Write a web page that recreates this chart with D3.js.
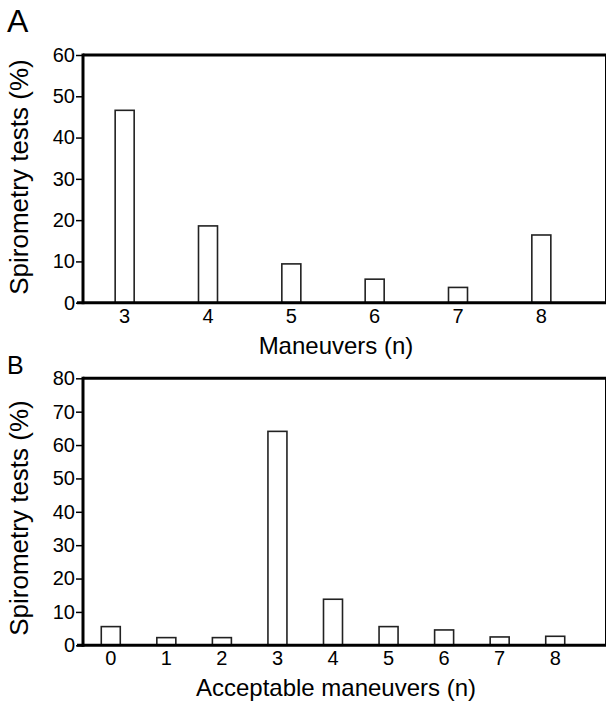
<!DOCTYPE html>
<html lang="en">
<head>
<meta charset="UTF-8">
<title>Spirometry maneuvers</title>
<script src="https://d3js.org/d3.v7.min.js"></script>
<style>
  body { margin: 0; background: #fff; }
  text { font-family: "Liberation Sans", Arial, sans-serif; fill: #000; }
</style>
</head>
<body>
<script>
// data
var maneuvers = ["3", "4", "5", "6", "7", "8"];
var maneuverPct = [46.6, 18.6, 9.4, 5.7, 3.7, 16.4];
var yTicksA = [0, 10, 20, 30, 40, 50, 60];

var acceptable = ["0", "1", "2", "3", "4", "5", "6", "7", "8"];
var acceptablePct = [5.6, 2.3, 2.3, 64.1, 13.8, 5.6, 4.6, 2.5, 2.7];
var yTicksB = [0, 10, 20, 30, 40, 50, 60, 70, 80];

var w = 606, h = 703;
var left = 83, right = 583;

var svg = d3.select("body").append("svg")
    .attr("width", w)
    .attr("height", h);

function panel(letter, letterSize, letterY, cats, vals, ticks, yTop, yBottom, xTitle, xTitleY, yTitleMid) {
    var g = svg.append("g");

    var x = d3.scaleBand().domain(cats).range([left, right]);
    var y = d3.scaleLinear().domain([0, d3.max(ticks)]).range([yBottom, yTop]);

    // bars
    var bw = 19;
    g.selectAll("rect.bar")
        .data(vals)
        .enter()
        .append("rect")
        .attr("class", "bar")
        .attr("x", function(d, i) { return x(cats[i]) + x.bandwidth() / 2 - bw / 2; })
        .attr("y", function(d) { return y(d); })
        .attr("width", bw)
        .attr("height", function(d) { return y(0) - y(d); })
        .attr("fill", "#fff")
        .attr("stroke", "#222")
        .attr("stroke-width", 1.6);

    // y axis
    var ya = g.append("g")
        .attr("transform", "translate(" + left + ",0)")
        .call(d3.axisLeft(y).tickValues(ticks).tickSize(7).tickPadding(1));
    ya.select(".domain").remove();
    ya.selectAll("line").attr("stroke", "#000").attr("stroke-width", 1.5);
    ya.selectAll("text").style("font-size", "20px");

    // x axis
    var xa = g.append("g")
        .attr("transform", "translate(0," + yBottom + ")")
        .call(d3.axisBottom(x).tickSize(0).tickPadding(6));
    xa.select(".domain").remove();
    xa.selectAll("text").style("font-size", "20px");

    // frame: left, bottom, top, right edge
    g.append("line").attr("x1", left).attr("x2", left).attr("y1", yTop - 1.5).attr("y2", yBottom + 1.5)
        .attr("stroke", "#000").attr("stroke-width", 3);
    g.append("line").attr("x1", left - 6).attr("x2", w).attr("y1", yBottom).attr("y2", yBottom)
        .attr("stroke", "#000").attr("stroke-width", 3);
    g.append("line").attr("x1", left).attr("x2", w).attr("y1", yTop).attr("y2", yTop)
        .attr("stroke", "#000").attr("stroke-width", 3);
    g.append("line").attr("x1", w + 0.5).attr("x2", w + 0.5).attr("y1", yTop).attr("y2", yBottom)
        .attr("stroke", "#000").attr("stroke-width", 3);

    // titles
    g.append("text")
        .attr("x", (left + right) / 2 + 3)
        .attr("y", xTitleY)
        .attr("text-anchor", "middle")
        .style("font-size", "24px")
        .text(xTitle);

    g.append("text")
        .attr("transform", "translate(28," + yTitleMid + ") rotate(-90)")
        .attr("text-anchor", "middle")
        .style("font-size", "26px")
        .text("Spirometry tests (%)");

    g.append("text")
        .attr("x", 7)
        .attr("y", letterY)
        .style("font-size", letterSize + "px")
        .text(letter);
}

panel("A", 32, 31.5, maneuvers, maneuverPct, yTicksA, 55, 302.7, "Maneuvers (n)", 354, 177);
panel("B", 25, 373.5, acceptable, acceptablePct, yTicksB, 378.3, 645.3, "Acceptable maneuvers (n)", 695.5, 518);
</script>
</body>
</html>
